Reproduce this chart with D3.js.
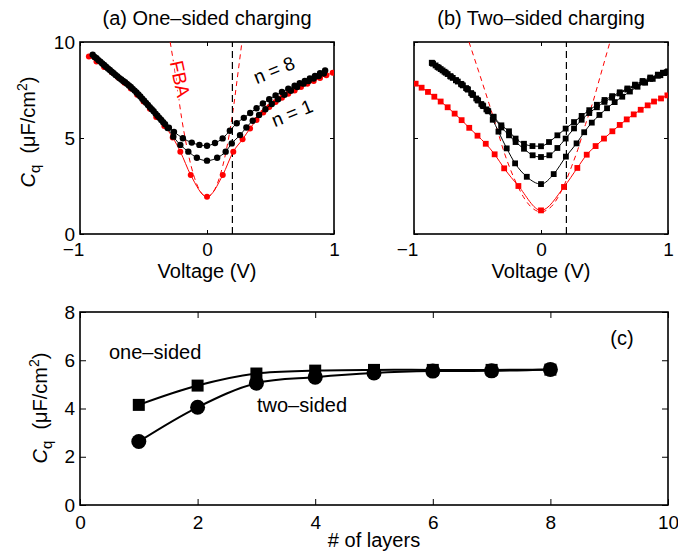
<!DOCTYPE html>
<html>
<head>
<meta charset="utf-8">
<script src="https://cdn.jsdelivr.net/npm/d3@7"></script>
<style>
body { margin: 0; background: #fff; }
text { font-family: "Liberation Sans", Arial, Helvetica, sans-serif; fill: #000; }
</style>
</head>
<body>
<div id="gbody"></div>
<script>
/******************* datos: [voltaje (V), Cq (uF/cm2)] *******************/
// (a) one-sided charging
var oneSidedN1 = [[-0.93,9.25],[-0.87,8.98],[-0.81,8.70],[-0.75,8.42],[-0.70,8.15],[-0.65,7.88],[-0.60,7.58],[-0.55,7.25],[-0.50,6.90],[-0.45,6.52],[-0.40,6.10],[-0.336,5.62],[-0.27,5.03],[-0.21,4.29],[-0.128,3.07],[0,1.94],[0.124,3.07],[0.207,4.29],[0.28,4.93],[0.339,5.50],[0.39,5.94],[0.443,6.33],[0.49,6.62],[0.54,6.88],[0.59,7.10],[0.64,7.30],[0.69,7.48],[0.74,7.65],[0.79,7.82],[0.84,7.97],[0.89,8.12],[0.94,8.27],[0.99,8.40]];
var oneSidedN2 = [[-0.885,9.22],[-0.855,9.05],[-0.825,8.88],[-0.795,8.71],[-0.765,8.54],[-0.735,8.37],[-0.705,8.21],[-0.675,8.05],[-0.645,7.90],[-0.615,7.74],[-0.585,7.56],[-0.555,7.37],[-0.525,7.16],[-0.495,6.94],[-0.465,6.72],[-0.435,6.50],[-0.405,6.27],[-0.375,6.05],[-0.345,5.82],[-0.31,5.52],[-0.265,5.07],[-0.21,4.64],[-0.147,4.29],[-0.08,3.97],[0,3.82],[0.08,3.97],[0.147,4.29],[0.195,4.72],[0.26,5.15],[0.31,5.55],[0.36,5.90],[0.41,6.20],[0.46,6.50],[0.51,6.77],[0.56,7.02],[0.61,7.25],[0.66,7.46],[0.71,7.65],[0.76,7.83],[0.80,7.97],[0.84,8.10],[0.88,8.23],[0.92,8.36]];
var oneSidedN8 = [[-0.90,9.34],[-0.87,9.16],[-0.84,8.98],[-0.81,8.80],[-0.78,8.62],[-0.75,8.45],[-0.72,8.28],[-0.69,8.12],[-0.66,7.97],[-0.63,7.82],[-0.60,7.66],[-0.57,7.47],[-0.54,7.27],[-0.51,7.05],[-0.48,6.83],[-0.45,6.61],[-0.42,6.39],[-0.39,6.16],[-0.36,5.94],[-0.33,5.72],[-0.30,5.54],[-0.26,5.32],[-0.19,4.99],[-0.12,4.76],[-0.06,4.64],[0,4.60],[0.063,4.74],[0.123,4.98],[0.18,5.38],[0.234,5.77],[0.29,6.05],[0.34,6.30],[0.39,6.55],[0.44,6.80],[0.49,7.02],[0.54,7.22],[0.59,7.40],[0.64,7.57],[0.69,7.72],[0.73,7.85],[0.77,7.97],[0.81,8.10],[0.85,8.23],[0.89,8.37],[0.93,8.52]];
var fbaOneSided = [[-0.29,10],[-0.25,8.37],[-0.2,6.05],[-0.15,4.25],[-0.1,2.96],[-0.05,2.19],[0,1.93],[0.05,2.19],[0.1,2.98],[0.15,4.3],[0.2,6.2],[0.25,8.7],[0.275,10]];

// (b) two-sided charging
var twoSidedN1 = [[-0.987,7.83],[-0.94,7.62],[-0.89,7.40],[-0.84,7.15],[-0.79,6.90],[-0.735,6.60],[-0.68,6.27],[-0.625,5.93],[-0.565,5.53],[-0.5,5.12],[-0.435,4.70],[-0.365,4.15],[-0.29,3.42],[-0.178,2.50],[0,1.23],[0.181,2.45],[0.286,3.44],[0.36,4.13],[0.43,4.58],[0.496,4.97],[0.562,5.35],[0.62,5.68],[0.675,5.97],[0.73,6.23],[0.785,6.47],[0.84,6.70],[0.89,6.90],[0.945,7.06],[0.995,7.22]];
var twoSidedN2 = [[-0.86,8.92],[-0.83,8.78],[-0.79,8.59],[-0.75,8.40],[-0.71,8.20],[-0.67,8.01],[-0.63,7.82],[-0.59,7.60],[-0.55,7.34],[-0.51,7.06],[-0.47,6.77],[-0.43,6.49],[-0.38,5.95],[-0.335,5.33],[-0.27,4.46],[-0.204,3.68],[-0.112,2.98],[0,2.60],[0.1,3.12],[0.196,4.03],[0.28,4.72],[0.34,5.30],[0.4,5.80],[0.46,6.20],[0.52,6.55],[0.58,6.87],[0.64,7.15],[0.70,7.42],[0.76,7.67],[0.82,7.88],[0.88,8.08],[0.94,8.27],[0.99,8.43]];
var twoSidedN3 = [[-0.85,8.87],[-0.805,8.66],[-0.76,8.45],[-0.715,8.22],[-0.67,8.01],[-0.625,7.79],[-0.58,7.55],[-0.54,7.27],[-0.5,6.98],[-0.46,6.70],[-0.42,6.42],[-0.374,6.08],[-0.312,5.55],[-0.252,5.14],[-0.2,4.79],[-0.134,4.44],[-0.066,4.10],[0,4.01],[0.066,4.10],[0.129,4.48],[0.194,4.97],[0.26,5.50],[0.32,5.95],[0.38,6.30],[0.44,6.60],[0.5,6.88],[0.56,7.10],[0.62,7.32],[0.68,7.52],[0.74,7.72],[0.80,7.90],[0.86,8.08],[0.92,8.24],[0.97,8.38]];
var twoSidedN8 = [[-0.857,8.90],[-0.815,8.70],[-0.775,8.52],[-0.735,8.33],[-0.695,8.13],[-0.655,7.94],[-0.615,7.74],[-0.575,7.52],[-0.535,7.24],[-0.495,6.95],[-0.455,6.66],[-0.415,6.39],[-0.374,6.11],[-0.312,5.66],[-0.252,5.35],[-0.2,4.97],[-0.134,4.70],[-0.067,4.58],[0,4.57],[0.063,4.79],[0.129,5.14],[0.194,5.49],[0.26,5.83],[0.32,6.15],[0.38,6.45],[0.44,6.73],[0.5,6.98],[0.56,7.18],[0.62,7.38],[0.68,7.58],[0.74,7.78],[0.80,7.97],[0.86,8.15],[0.92,8.30],[0.96,8.40],[1.0,8.47]];
var fbaTwoSided = [[-0.567,10],[-0.49,8.45],[-0.409,6.79],[-0.35,5.55],[-0.291,4.27],[-0.24,3.35],[-0.186,2.53],[-0.14,1.95],[-0.094,1.52],[-0.045,1.24],[0,1.15],[0.045,1.24],[0.094,1.52],[0.14,1.98],[0.186,2.6],[0.24,3.5],[0.29,4.4],[0.35,5.7],[0.41,6.9],[0.47,8.3],[0.543,10]];

// (c) Cq en el punto de carga vs numero de capas
var layers = [1, 2, 3, 4, 5, 6, 7, 8];
var cqOneSided = [4.15, 4.95, 5.45, 5.57, 5.60, 5.60, 5.60, 5.61];
var cqTwoSided = [2.63, 4.05, 5.05, 5.30, 5.47, 5.55, 5.56, 5.62];

var voltTicks = [-1, 0, 1];
var cqTicksTop = [0, 5, 10];
var layerTicks = [0, 2, 4, 6, 8, 10];
var cqTicksBottom = [0, 2, 4, 6, 8];
var gateVoltage = 0.2;

var rojo = "#ff0000";

/******************* lienzo *************************/
var svg = d3.select("#gbody").append("svg")
    .attr("width", 678)
    .attr("height", 554);

var xA = d3.scaleLinear().domain([-1, 1]).range([80, 334]);
var xB = d3.scaleLinear().domain([-1, 1]).range([414, 668]);
var yAB = d3.scaleLinear().domain([0, 10]).range([234, 42]);
var xC = d3.scaleLinear().domain([0, 10]).range([80, 668]);
var yC = d3.scaleLinear().domain([0, 8]).range([505, 312]);

var fmt = d3.format("d");

function marco(id, x, y, xTicks, yTicks, showY, tick, pad, fontSize, negShift){
    var g = svg.append("g").attr("id", id);
    var xr = x.range(), yr = y.range();

    g.append("defs").append("clipPath").attr("id", "clip_" + id)
        .append("rect")
        .attr("x", xr[0]).attr("y", yr[1])
        .attr("width", xr[1] - xr[0]).attr("height", yr[0] - yr[1]);

    var ab = g.append("g").attr("transform", "translate(0," + yr[0] + ")")
        .call(d3.axisBottom(x).tickValues(xTicks).tickFormat(fmt).tickSize(-tick).tickSizeOuter(0).tickPadding(pad));
    ab.selectAll("text").attr("dx", function(d){ return d < 0 ? -negShift : 0; });

    var al = g.append("g").attr("transform", "translate(" + xr[0] + ",0)")
        .call(d3.axisLeft(y).tickValues(yTicks).tickFormat(fmt).tickSize(-tick).tickSizeOuter(0).tickPadding(5));
    if(!showY) al.selectAll("text").remove();

    g.append("g").attr("transform", "translate(0," + yr[1] + ")")
        .call(d3.axisTop(x).tickValues(xTicks).tickSize(-tick).tickSizeOuter(0).tickFormat(""));
    g.append("g").attr("transform", "translate(" + xr[1] + ",0)")
        .call(d3.axisRight(y).tickValues(yTicks).tickSize(-tick).tickSizeOuter(0).tickFormat(""));

    g.selectAll(".domain").remove();
    g.selectAll(".tick line").attr("stroke", "#000").attr("stroke-width", 1);
    g.selectAll(".tick text").style("font-size", fontSize + "px").attr("fill", "#000");

    g.append("rect")
        .attr("x", xr[0]).attr("y", yr[1])
        .attr("width", xr[1] - xr[0]).attr("height", yr[0] - yr[1])
        .attr("fill", "none").attr("stroke", "#000").attr("stroke-width", 1.6);

    return g.append("g").attr("clip-path", "url(#clip_" + id + ")");
}

function etiquetaY(x, y, size){
    var t = svg.append("text")
        .attr("transform", "translate(" + x + "," + y + ") rotate(-90)")
        .attr("text-anchor", "middle")
        .style("font-size", size + "px");
    t.append("tspan").style("font-style", "italic").text("C");
    t.append("tspan").attr("dy", 5).style("font-size", (size - 5) + "px").text("q");
    t.append("tspan").attr("dy", -5).text("\u00a0\u00a0(\u03bcF/cm");
    t.append("tspan").attr("dy", -8).style("font-size", (size - 6) + "px").text("2");
    t.append("tspan").attr("dy", 8).text(")");
}

function texto(x, y, str, size, anchor){
    return svg.append("text")
        .attr("x", x).attr("y", y)
        .attr("text-anchor", anchor || "middle")
        .style("font-size", size + "px")
        .text(str);
}

function serie(g, data, x, y, color, marker, r){
    var line = d3.line()
        .x(function(d){ return x(d[0]); })
        .y(function(d){ return y(d[1]); })
        .curve(d3.curveMonotoneX);
    g.append("path").datum(data)
        .attr("d", line)
        .attr("fill", "none")
        .attr("stroke", color)
        .attr("stroke-width", 1);
    if(marker == "circle"){
        g.selectAll(null).data(data).enter().append("circle")
            .attr("cx", function(d){ return x(d[0]); })
            .attr("cy", function(d){ return y(d[1]); })
            .attr("r", r)
            .attr("fill", color);
    } else {
        g.selectAll(null).data(data).enter().append("rect")
            .attr("x", function(d){ return x(d[0]) - r; })
            .attr("y", function(d){ return y(d[1]) - r; })
            .attr("width", 2 * r).attr("height", 2 * r)
            .attr("fill", color);
    }
}

function punteada(g, data, x, y){
    var line = d3.line()
        .x(function(d){ return x(d[0]); })
        .y(function(d){ return y(d[1]); })
        .curve(d3.curveMonotoneX);
    g.append("path").datum(data)
        .attr("d", line)
        .attr("fill", "none")
        .attr("stroke", rojo)
        .attr("stroke-width", 1)
        .attr("stroke-dasharray", "5,4");
}

function lineaGate(g, x, y){
    g.append("line")
        .attr("x1", x(gateVoltage)).attr("x2", x(gateVoltage))
        .attr("y1", y(0)).attr("y2", y(10))
        .attr("stroke", "#000")
        .attr("stroke-width", 1.2)
        .attr("stroke-dasharray", "7,4");
}

/******************* (a) *************************/
var pa = marco("panelA", xA, yAB, voltTicks, cqTicksTop, true, 4, 9, 19, 7);
punteada(pa, fbaOneSided, xA, yAB);
lineaGate(pa, xA, yAB);
serie(pa, oneSidedN1, xA, yAB, rojo, "circle", 3);
serie(pa, oneSidedN2, xA, yAB, "#000", "circle", 3.2);
serie(pa, oneSidedN8, xA, yAB, "#000", "circle", 3.2);

texto(207, 25, "(a) One\u2013sided charging", 20);
texto(207, 278, "Voltage (V)", 20);
etiquetaY(35, 132, 20);

svg.append("text")
    .attr("transform", "translate(180,79) rotate(78)")
    .attr("text-anchor", "middle")
    .attr("dy", "0.35em")
    .style("font-size", "19px")
    .style("fill", rojo)
    .attr("stroke", "#fff").attr("stroke-width", 3).attr("paint-order", "stroke")
    .text("FBA");

svg.append("text")
    .attr("transform", "translate(274,70) rotate(-22)")
    .attr("text-anchor", "middle").attr("dy", "0.35em")
    .style("font-size", "19px")
    .text("n = 8");
svg.append("text")
    .attr("transform", "translate(292,113) rotate(-22)")
    .attr("text-anchor", "middle").attr("dy", "0.35em")
    .style("font-size", "19px")
    .text("n = 1");

/******************* (b) *************************/
var pb = marco("panelB", xB, yAB, voltTicks, cqTicksTop, false, 4, 9, 19, 7);
punteada(pb, fbaTwoSided, xB, yAB);
lineaGate(pb, xB, yAB);
serie(pb, twoSidedN1, xB, yAB, rojo, "square", 2.9);
serie(pb, twoSidedN2, xB, yAB, "#000", "square", 2.9);
serie(pb, twoSidedN3, xB, yAB, "#000", "square", 2.9);
serie(pb, twoSidedN8, xB, yAB, "#000", "square", 2.9);

texto(541, 25, "(b) Two\u2013sided charging", 20);
texto(541, 278, "Voltage (V)", 20);

/******************* (c) *************************/
var pc = marco("panelC", xC, yC, layerTicks, cqTicksBottom, true, 6, 11, 19, 0);
var lineaC = d3.line()
    .x(function(d){ return xC(d[0]); })
    .y(function(d){ return yC(d[1]); })
    .curve(d3.curveCatmullRom.alpha(0.5));

var datosUno = layers.map(function(n, i){ return [n, cqOneSided[i]]; });
var datosDos = layers.map(function(n, i){ return [n, cqTwoSided[i]]; });

pc.append("path").datum(datosUno).attr("d", lineaC)
    .attr("fill", "none").attr("stroke", "#000").attr("stroke-width", 2);
pc.append("path").datum(datosDos).attr("d", lineaC)
    .attr("fill", "none").attr("stroke", "#000").attr("stroke-width", 2);

pc.selectAll(".sq").data(datosUno).enter().append("rect")
    .attr("class", "sq")
    .attr("x", function(d){ return xC(d[0]) - 6; })
    .attr("y", function(d){ return yC(d[1]) - 6; })
    .attr("width", 12).attr("height", 12)
    .attr("fill", "#000");
pc.selectAll(".ci").data(datosDos).enter().append("circle")
    .attr("class", "ci")
    .attr("cx", function(d){ return xC(d[0]); })
    .attr("cy", function(d){ return yC(d[1]); })
    .attr("r", 7.5)
    .attr("fill", "#000");

texto(109, 359, "one\u2013sided", 20, "start");
texto(257, 412, "two\u2013sided", 20, "start");
texto(622, 345, "(c)", 20);
texto(374, 547, "# of layers", 20);
etiquetaY(47, 408, 20);
</script>
</body>
</html>
